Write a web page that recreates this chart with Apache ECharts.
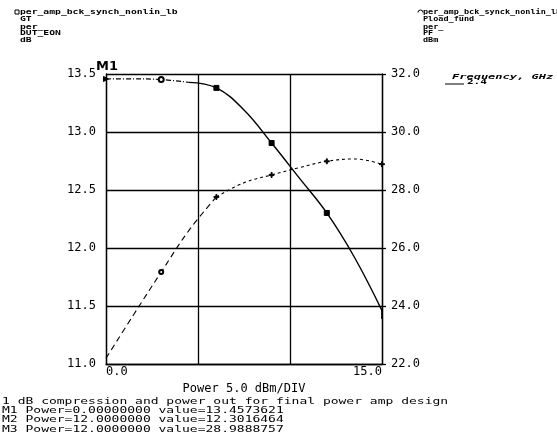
<!DOCTYPE html>
<html>
<head>
<meta charset="utf-8">
<script src="https://cdn.jsdelivr.net/npm/echarts@6/dist/echarts.min.js"></script>
<style>
html,body{margin:0;padding:0;background:#fff;}
#chart{width:557px;height:445px;}
</style>
</head>
<body>
<div id="chart"></div>
<script>
// ---- data ----
const powerIn = [0, 1.5, 3, 4.5, 6, 7.5, 9, 10.5, 12, 13.5, 15];
const gainDb  = [13.457, 13.458, 13.452, 13.428, 13.38, 13.19, 12.905, 12.604, 12.302, 11.92, 11.46];
const poutDbm = [22.2, 23.7, 25.17, 26.6, 27.76, 28.25, 28.52, 28.77, 28.989, 29.07, 28.89];
const xTickLabels = ['0.0', '15.0'];
const leftHeader  = ['per_amp_bck_synch_nonlin_lb', 'GT', 'per_', 'DUT_EON', 'dB'];
const rightHeader = ['per_amp_bck_synck_nonlin_lb', 'Pload_fund', 'per_', 'PF', 'dBm'];
const legendTitle = 'Frequency, GHz';
const legendValue = '2.4';
const markerName = 'M1';
const markerPoint = [0, 13.4573621];
const notes = [
  '1 dB compression and power out for final power amp design',
  'M1 Power=0.00000000 value=13.4573621',
  'M2 Power=12.0000000 value=12.3016464',
  'M3 Power=12.0000000 value=28.9888757'
];
const xAxisName = 'Power 5.0 dBm/DIV';

// ---- styling / layout ----
const MONO = '"DejaVu Sans Mono", monospace';
const plusPath = 'path://M4,0H6V4H10V6H6V10H4V6H0V4H4Z';
const rightTri = 'path://M0,0L10,5L0,10Z';

function gainSymbol(x) {
  if (x === 0) return { symbol: rightTri, symbolSize: 5 };
  if (x === 3) return { symbol: 'emptyCircle', symbolSize: 5 };
  if (x === 6 || x === 9 || x === 12) return { symbol: 'rect', symbolSize: 5 };
  if (x === 15) return { symbol: 'rect', symbolSize: [1.5, 8], symbolOffset: [0, 3] };
  return { symbol: 'none' };
}
function poutSymbol(x) {
  if (x === 3) return { symbol: 'emptyCircle', symbolSize: 4 };
  if (x === 6 || x === 9 || x === 12 || x === 15) return { symbol: plusPath, symbolSize: 5 };
  return { symbol: 'none' };
}
function build(xs, ys, from, to, symFn, skipLastSym) {
  const out = [];
  for (let i = 0; i < xs.length; i++) {
    if (xs[i] < from || xs[i] > to) continue;
    const s = (skipLastSym && xs[i] === to) ? { symbol: 'none' } : symFn(xs[i]);
    out.push(Object.assign({ value: [xs[i], ys[i]] }, s));
  }
  return out;
}

const lineBase = {
  type: 'line', smooth: 0.4, showSymbol: true, symbol: 'none',
  itemStyle: { color: '#000', borderColor: '#000' },
  emphasis: { disabled: true }, silent: true, animation: false, z: 5
};

const graphics = [];
const hdrY = [12, 19, 27, 33, 40];
leftHeader.forEach((t, i) => graphics.push({
  type: 'text', x: 20, y: hdrY[i], scaleX: 0.97, scaleY: 0.75,
  style: { text: t, x: 0, y: 0, font: 'bold 10px ' + MONO, fill: '#000', textVerticalAlign: 'middle' }
}));
rightHeader.forEach((t, i) => graphics.push({
  type: 'text', x: 423, y: hdrY[i], scaleX: 0.85, scaleY: 0.75,
  style: { text: t, x: 0, y: 0, font: 'bold 10px ' + MONO, fill: '#000', textVerticalAlign: 'middle' }
}));
graphics.push({ type: 'rect', shape: { x: 15, y: 10, width: 4, height: 4 }, style: { fill: 'none', stroke: '#000', lineWidth: 1 } });
graphics.push({ type: 'arc', shape: { cx: 420.5, cy: 12.5, r: 2.5, startAngle: Math.PI, endAngle: 2 * Math.PI }, style: { fill: 'none', stroke: '#000', lineWidth: 1 } });
graphics.push({
  type: 'text', x: 452, y: 77, scaleX: 1.2, scaleY: 0.75,
  style: { text: legendTitle, x: 0, y: 0, font: 'italic bold 10px ' + MONO, fill: '#000', textVerticalAlign: 'middle' }
});
graphics.push({ type: 'line', shape: { x1: 445, y1: 84, x2: 464, y2: 84 }, style: { stroke: '#000', lineWidth: 1 } });
graphics.push({
  type: 'text', x: 467, y: 82, scaleX: 1.1, scaleY: 0.75,
  style: { text: legendValue, x: 0, y: 0, font: 'bold 10px ' + MONO, fill: '#000', textVerticalAlign: 'middle' }
});
const noteY = [402, 411, 420, 430];
notes.forEach((t, i) => graphics.push({
  type: 'text', x: 2, y: noteY[i], scaleX: 1.3, scaleY: 0.95,
  style: { text: t, x: 0, y: 0, font: '10px ' + MONO, fill: '#000', textVerticalAlign: 'middle' }
}));

const axisLabelStyle = { color: '#000', fontFamily: MONO, fontSize: 12 };
const blackLine = { color: '#000', width: 1.3 };

const option = {
  animation: false,
  backgroundColor: '#fff',
  grid: { left: 106, right: 175, top: 74, bottom: 81, containLabel: false },
  xAxis: {
    type: 'value', min: 0, max: 15, interval: 5,
    axisLine: { show: true, onZero: false, lineStyle: blackLine },
    axisTick: { show: false },
    splitLine: { show: true, lineStyle: blackLine },
    axisLabel: Object.assign({}, axisLabelStyle, {
      margin: 2,
      formatter: v => v === 0 ? xTickLabels[0] : (v === 15 ? xTickLabels[1] : ''),
      alignMinLabel: 'left', alignMaxLabel: 'right'
    }),
    name: xAxisName, nameLocation: 'middle', nameGap: 14,
    nameTextStyle: { color: '#000', fontFamily: MONO, fontSize: 12 }
  },
  yAxis: [
    {
      type: 'value', min: 11, max: 13.5, interval: 0.5, position: 'left',
      axisLine: { show: true, lineStyle: blackLine },
      axisTick: { show: false },
      splitLine: { show: true, lineStyle: blackLine },
      axisLabel: Object.assign({}, axisLabelStyle, { margin: 10, formatter: v => v.toFixed(1) })
    },
    {
      type: 'value', min: 22, max: 32, interval: 2, position: 'right',
      axisLine: { show: true, lineStyle: blackLine },
      axisTick: { show: true, inside: false, length: 4, lineStyle: blackLine },
      splitLine: { show: false },
      axisLabel: Object.assign({}, axisLabelStyle, { margin: 9, formatter: v => v.toFixed(1) })
    }
  ],
  series: [
    Object.assign({}, lineBase, {
      name: 'GT a', yAxisIndex: 0,
      data: build(powerIn, gainDb, 0, 4.5, gainSymbol, true),
      lineStyle: { color: '#000', width: 1.2, type: [5, 2, 1, 2] },
      markPoint: {
        silent: true, symbol: 'rect', symbolSize: 1,
        itemStyle: { color: 'rgba(0,0,0,0)' },
        data: [{ coord: markerPoint, name: markerName }],
        label: { show: true, position: 'inside', offset: [1, -12], formatter: markerName,
                 color: '#000', fontFamily: '"DejaVu Sans", sans-serif', fontWeight: 'bold', fontSize: 13 }
      }
    }),
    Object.assign({}, lineBase, {
      name: 'GT b', yAxisIndex: 0,
      data: build(powerIn, gainDb, 4.5, 15, gainSymbol, false),
      lineStyle: { color: '#000', width: 1.4, type: 'solid' }
    }),
    Object.assign({}, lineBase, {
      name: 'PF a', yAxisIndex: 1,
      data: build(powerIn, poutDbm, 0, 6, poutSymbol, true),
      lineStyle: { color: '#000', width: 1.1, type: [6, 4] }
    }),
    Object.assign({}, lineBase, {
      name: 'PF b', yAxisIndex: 1,
      data: build(powerIn, poutDbm, 6, 15, poutSymbol, false),
      lineStyle: { color: '#000', width: 1.1, type: [3, 3] }
    })
  ],
  graphic: graphics
};

const chart = echarts.init(document.getElementById('chart'), null, { renderer: 'canvas' });
chart.setOption(option);
</script>
</body>
</html>
